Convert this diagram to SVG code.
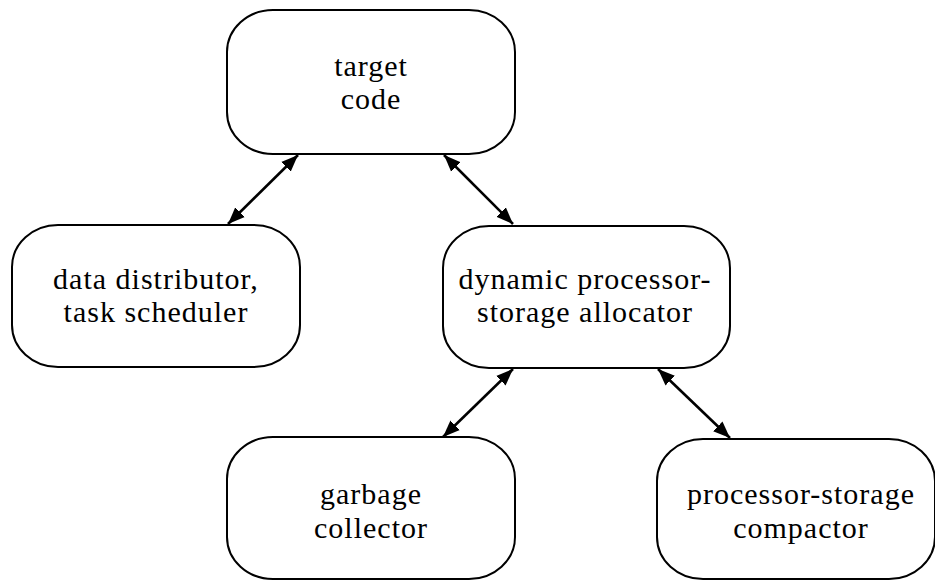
<svg xmlns="http://www.w3.org/2000/svg" width="935" height="581" viewBox="0 0 935 581">
<defs>
<style>
.box{fill:#fff;stroke:#000;stroke-width:2}
.lbl{font-family:"Liberation Serif","Times New Roman","DejaVu Serif",serif;font-size:30px;fill:#000;text-anchor:middle;letter-spacing:1px}
.con{stroke:#000;stroke-width:2.6;fill:none;marker-start:url(#ah);marker-end:url(#ah)}
</style>
<marker id="ah" viewBox="0 0 10 10" refX="10" refY="5" markerWidth="6.5" markerHeight="6.5" orient="auto-start-reverse" markerUnits="strokeWidth">
<path d="M0,1 L10,5 L0,9 Z" fill="#000"/>
</marker>
</defs>
<rect width="935" height="581" fill="#fff"/>
<g id="target">
<rect class="box" x="227" y="10" width="288" height="144" rx="46" ry="42"/>
<text class="lbl" x="371" y="76">target</text>
<text class="lbl" x="371" y="109">code</text>
</g>
<g id="distributor">
<rect class="box" x="12" y="225" width="288" height="142" rx="46" ry="42"/>
<text class="lbl" x="156" y="289">data distributor,</text>
<text class="lbl" x="156" y="322">task scheduler</text>
</g>
<g id="allocator">
<rect class="box" x="443" y="226" width="287" height="142" rx="46" ry="42"/>
<text class="lbl" x="585" y="289">dynamic processor-</text>
<text class="lbl" x="585" y="322">storage allocator</text>
</g>
<g id="garbage">
<rect class="box" x="227" y="437" width="288" height="142" rx="46" ry="42"/>
<text class="lbl" x="371" y="504">garbage</text>
<text class="lbl" x="371" y="538">collector</text>
</g>
<g id="compactor">
<rect class="box" x="657" y="439" width="278" height="140" rx="46" ry="42"/>
<text class="lbl" x="801" y="504">processor-storage</text>
<text class="lbl" x="801" y="538">compactor</text>
</g>
<g id="connectors">
<line class="con" x1="298" y1="155" x2="228" y2="224"/>
<line class="con" x1="444" y1="155" x2="513" y2="224"/>
<line class="con" x1="513" y1="369" x2="443" y2="437"/>
<line class="con" x1="658" y1="369" x2="730" y2="438"/>
</g>
</svg>
